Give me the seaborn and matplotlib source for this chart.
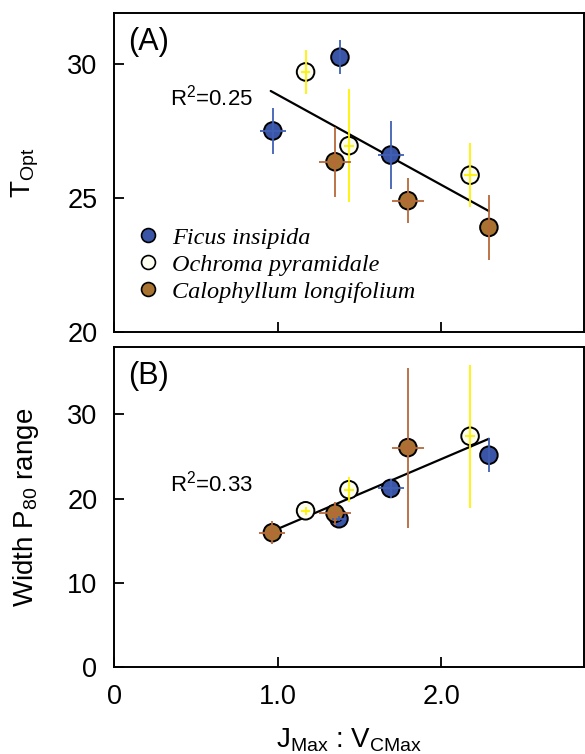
import numpy as np
import pandas as pd
import seaborn as sns
import matplotlib.pyplot as plt

sns.set_style("ticks")
plt.rcParams["font.family"] = ["Liberation Sans", "DejaVu Sans"]
plt.rcParams["mathtext.default"] = "regular"
plt.rcParams.update({"text.color": "black", "axes.labelcolor": "black",
                     "xtick.color": "black", "ytick.color": "black",
                     "axes.edgecolor": "black"})

species = ["Ficus insipida", "Ochroma pyramidale", "Calophyllum longifolium"]
face_col = ["#3b55a6", "#fdfdf0", "#a87230"]
bar_col = ["#4060b4", "#fff200", "#b8683a"]

# panel A: T_opt vs Jmax:Vcmax (3 points per species)
a_x = {"Ficus insipida": [0.97, 1.38, 1.69],
       "Ochroma pyramidale": [1.17, 1.435, 2.175],
       "Calophyllum longifolium": [1.35, 1.795, 2.29]}
a_xerr = {"Ficus insipida": [0.08, 0.0, 0.08],
          "Ochroma pyramidale": [0.03, 0.03, 0.04],
          "Calophyllum longifolium": [0.10, 0.10, 0.0]}
a_y = {"Ficus insipida": [27.5, 30.25, 26.6],
       "Ochroma pyramidale": [29.7, 26.95, 25.85],
       "Calophyllum longifolium": [26.35, 24.9, 23.9]}
a_yerr = {"Ficus insipida": [0.85, 0.63, 1.27],
          "Ochroma pyramidale": [0.82, 2.1, 1.2],
          "Calophyllum longifolium": [1.3, 0.84, 1.2]}
a_fit_x = [0.957, 2.29]
a_fit_y = [28.99, 24.51]

# panel B: width of P80 range
b_x = {"Ficus insipida": [1.374, 1.69, 2.29],
       "Ochroma pyramidale": [1.17, 1.435, 2.175],
       "Calophyllum longifolium": [0.967, 1.35, 1.795]}
b_xerr = {"Ficus insipida": [0.04, 0.08, 0.0],
          "Ochroma pyramidale": [0.03, 0.03, 0.03],
          "Calophyllum longifolium": [0.08, 0.10, 0.10]}
b_y = {"Ficus insipida": [17.6, 21.2, 25.15],
       "Ochroma pyramidale": [18.55, 21.05, 27.4],
       "Calophyllum longifolium": [15.95, 18.25, 26.05]}
b_yerr = {"Ficus insipida": [0.3, 1.1, 2.0],
          "Ochroma pyramidale": [0.5, 1.5, 8.5],
          "Calophyllum longifolium": [1.4, 1.4, 9.5]}
b_fit_x = [1.0, 2.29]
b_fit_y = [16.4, 27.1]


def to_frame(xd, yd):
    rows = []
    for s in species:
        for xv, yv in zip(xd[s], yd[s]):
            rows.append({"species": s, "x": xv, "y": yv})
    return pd.DataFrame(rows)


fig = plt.figure(figsize=(5.85, 7.54), dpi=100)
ax_a = fig.add_axes([0.195, 0.5597, 0.803, 0.4231])
ax_b = fig.add_axes([0.195, 0.1154, 0.803, 0.4244])

for ax, xd, xe, yd, ye, fx, fy in [(ax_a, a_x, a_xerr, a_y, a_yerr, a_fit_x, a_fit_y),
                                    (ax_b, b_x, b_xerr, b_y, b_yerr, b_fit_x, b_fit_y)]:
    ax.plot(fx, fy, color="black", lw=1.6, zorder=1)
    df = to_frame(xd, yd)
    sns.scatterplot(data=df, x="x", y="y", hue="species", hue_order=species,
                    palette=face_col, s=160, edgecolor="black", linewidth=1.4,
                    legend=(ax is ax_a), ax=ax, zorder=2)
    for s, c in zip(species, bar_col):
        ax.errorbar(xd[s], yd[s], xerr=xe[s], yerr=ye[s], fmt="none",
                    ecolor=c, elinewidth=1.3, capsize=0, zorder=3)
    ax.set_xlim(0, 2.87)
    ax.set_xticks([0, 1.0, 2.0])
    ax.tick_params(direction="in", length=7, width=1.3, labelsize=19.5, pad=12)
    for sp in ax.spines.values():
        sp.set_linewidth(1.4)
    ax.set_xlabel("")

ax_a.set_ylim(20, 31.9)
ax_a.set_yticks([20, 25, 30])
ax_a.set_xticklabels([])
ax_a.set_ylabel("T$_{Opt}$", fontsize=20)
ax_a.yaxis.set_label_coords(-0.155, 0.5)
ax_a.text(0.03, 0.955, "(A)", transform=ax_a.transAxes, fontsize=22, va="top")
ax_a.text(0.957 - 0.11, 28.75, "R$^2$=0.25", fontsize=16, ha="right", va="center")

leg = ax_a.legend(loc="upper left", bbox_to_anchor=(0.0, 0.36), frameon=False,
                  prop={"family": "Liberation Serif", "style": "italic", "size": 17.5},
                  handletextpad=0.0, labelspacing=0.2, borderaxespad=0)
for h in leg.legend_handles:
    h.set_markersize(10)
    h.set_markeredgecolor("black")
    h.set_markeredgewidth(1.2)

ax_b.set_ylim(0, 38)
ax_b.set_yticks([0, 10, 20, 30])
ax_b.set_xticklabels(["0", "1.0", "2.0"])
ax_b.set_ylabel("Width P$_{80}$ range", fontsize=20)
ax_b.yaxis.set_label_coords(-0.155, 0.5)
ax_b.set_xlabel("J$_{Max}$ : V$_{CMax}$", fontsize=20, labelpad=12)
ax_b.text(0.03, 0.955, "(B)", transform=ax_b.transAxes, fontsize=22, va="top")
ax_b.text(0.957 - 0.11, 21.8, "R$^2$=0.33", fontsize=16, ha="right", va="center")

fig.savefig("out.png", dpi=100)
